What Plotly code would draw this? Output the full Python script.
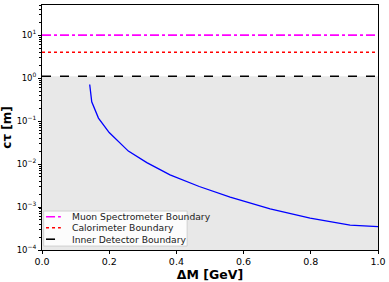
import plotly.graph_objects as go

# Data
dm = [0.142, 0.148, 0.168, 0.200, 0.257, 0.312, 0.381, 0.440, 0.468, 0.560, 0.679, 0.798, 0.917, 1.0]
ctau = [0.71, 0.28, 0.117, 0.054, 0.020, 0.0108, 0.0056, 0.0037, 0.0030, 0.0017, 0.00091, 0.00055, 0.00038, 0.00035]
muon_boundary = 10.0
calo_boundary = 4.0
inner_boundary = 1.1
x_range = [0.0, 1.0]
y_floor = 1e-4
y_ticks = [1e-4, 1e-3, 1e-2, 1e-1, 1, 10]
y_tick_labels = ["10<sup>−4</sup>", "10<sup>−3</sup>", "10<sup>−2</sup>", "10<sup>−1</sup>", "10<sup>0</sup>", "10<sup>1</sup>"]
x_ticks = [0.0, 0.2, 0.4, 0.6, 0.8, 1.0]
x_tick_labels = ["0.0", "0.2", "0.4", "0.6", "0.8", "1.0"]
legend_labels = ["Muon Spectrometer Boundary", "Calorimeter Boundary", "Inner Detector Boundary"]
legend_colors = ["#ff00ff", "#ff0000", "#000000"]
legend_dashes = ["dashdot", "dot", "dash"]

minor_vals = [m * 10 ** e for e in range(-4, 2) for m in range(2, 10)]
FONT = "DejaVu Sans"

fig = go.Figure()
fig.add_trace(go.Scatter(
    x=[x_range[0], x_range[1], x_range[1], x_range[0]],
    y=[y_floor, y_floor, inner_boundary, inner_boundary],
    fill="toself", fillcolor="#e8e8e8", line=dict(width=0),
    mode="lines", showlegend=False, hoverinfo="skip"))
for val, lab, col, dsh in zip([muon_boundary, calo_boundary, inner_boundary],
                              legend_labels, legend_colors, legend_dashes):
    fig.add_trace(go.Scatter(x=x_range, y=[val] * 2, mode="lines",
                             line=dict(color=col, dash=dsh, width=1.6),
                             name=lab, showlegend=False))
fig.add_trace(go.Scatter(x=dm, y=ctau, mode="lines",
                         line=dict(color="#0000ff", width=1.3),
                         showlegend=False))

# legend drawn in paper coordinates
row_y = [0.136, 0.091, 0.044]
fig.add_shape(type="rect", xref="paper", yref="paper", x0=0.005, x1=0.432, y0=0.016, y1=0.159,
              fillcolor="rgba(255,255,255,0.85)", line=dict(color="#d0d0d0", width=1))
for ry, lab, col, dsh in zip(row_y, legend_labels, legend_colors, legend_dashes):
    fig.add_shape(type="line", xref="paper", yref="paper", x0=0.012, x1=0.056, y0=ry, y1=ry,
                  line=dict(color=col, dash=dsh, width=1.6))
    fig.add_annotation(xref="paper", yref="paper", x=0.083, y=ry, text=lab, showarrow=False,
                       xanchor="left", yanchor="middle",
                       font=dict(family=FONT, size=9.2, color="#222222"))

fig.update_layout(
    width=389, height=282,
    margin=dict(l=42, r=11, t=5, b=32),
    paper_bgcolor="white", plot_bgcolor="white",
    font=dict(family=FONT, size=9.5, color="black"),
    showlegend=False,
    xaxis=dict(range=x_range, tickvals=x_ticks, ticktext=x_tick_labels,
               ticks="outside", ticklen=3, tickcolor="black", automargin=False,
               tickfont=dict(family=FONT, size=9.5),
               showline=True, linecolor="black", linewidth=1, mirror=True,
               showgrid=False, zeroline=False,
               title=dict(text="<b>ΔM [GeV]</b>", font=dict(family=FONT, size=12.5), standoff=1)),
    yaxis=dict(type="log", range=[-4, 1.70], tickvals=y_ticks, ticktext=y_tick_labels,
               ticks="outside", ticklen=3, tickcolor="black", automargin=False,
               tickfont=dict(family=FONT, size=8.5),
               minor=dict(tickvals=minor_vals, ticks="outside", ticklen=2, tickcolor="black"),
               showline=True, linecolor="black", linewidth=1, mirror=True,
               showgrid=False, zeroline=False,
               title=dict(text="<b>cτ [m]</b>", font=dict(family=FONT, size=12), standoff=2)),
)

fig.write_html("out.html", config={"displayModeBar": False},
               post_script="document.body.style.margin='0';document.body.style.overflow='hidden';")
